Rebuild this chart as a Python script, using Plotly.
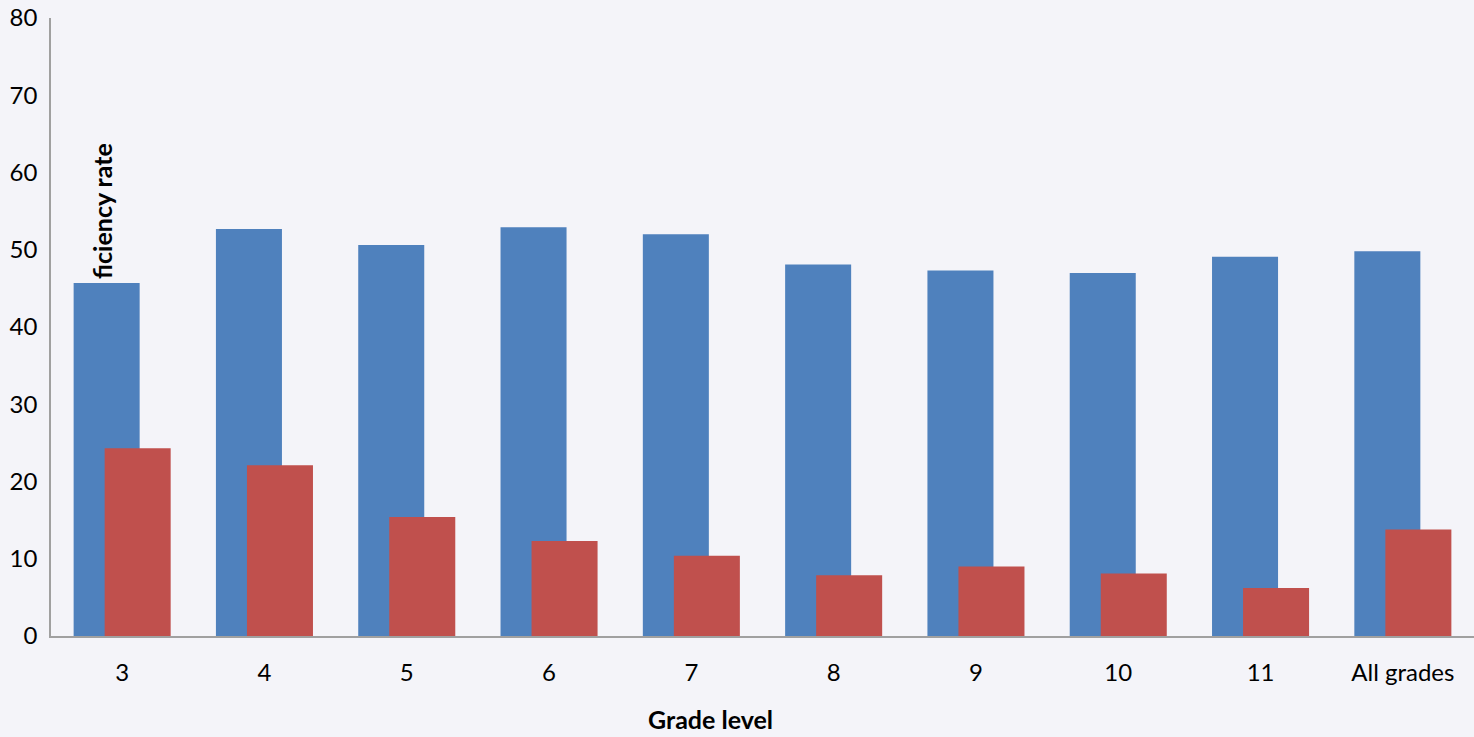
import plotly.graph_objects as go

grades = ["3", "4", "5", "6", "7", "8", "9", "10", "11", "All grades"]
series_a = [45.7, 52.7, 50.6, 52.9, 52.0, 48.1, 47.3, 47.0, 49.1, 49.8]
series_b = [24.3, 22.1, 15.4, 12.3, 10.4, 7.85, 9.0, 8.1, 6.2, 13.8]
y_ticks = [0, 10, 20, 30, 40, 50, 60, 70, 80]

FONT = "Lato"
BG = "#f4f4f9"

fig = go.Figure()
fig.add_trace(go.Bar(x=grades, y=series_a, marker=dict(color="#4f81bd", line=dict(width=0)),
                     offset=-0.341, width=0.464, name="A"))
fig.add_trace(go.Bar(x=grades, y=series_b, marker=dict(color="#c0504d", line=dict(width=0)),
                     offset=-0.123, width=0.464, name="B"))

fig.update_layout(
    width=1474, height=737,
    margin=dict(l=51, r=0, t=18, b=101),
    paper_bgcolor=BG, plot_bgcolor=BG,
    barmode="overlay", showlegend=False,
    font=dict(family=FONT, size=24, color="#000000"),
    xaxis=dict(type="category", range=[-0.5, 9.5], showline=True, linecolor="#a0a0a0",
               linewidth=1.5, showgrid=False, ticks="", ticklabelstandoff=14,
               tickfont=dict(size=24)),
    yaxis=dict(range=[0, 80], tickvals=y_ticks, showline=True, linecolor="#a0a0a0",
               linewidth=1.5, showgrid=False, zeroline=False, ticks="",
               ticklabelstandoff=7, tickfont=dict(size=24)),
    annotations=[
        dict(text="<b>Grade level</b>", xref="paper", yref="paper",
             x=(710 - 51) / 1423, y=-0.134, xanchor="center", yanchor="middle",
             showarrow=False, font=dict(size=25, family=FONT)),
        dict(text="<b>ficiency rate</b>", xref="paper", yref="y",
             x=(102 - 51) / 1423, y=45.7, xanchor="center", yanchor="bottom",
             yshift=2, textangle=-90, showarrow=False,
             font=dict(size=25, family=FONT)),
    ],
)

fig.write_html("out.html")
